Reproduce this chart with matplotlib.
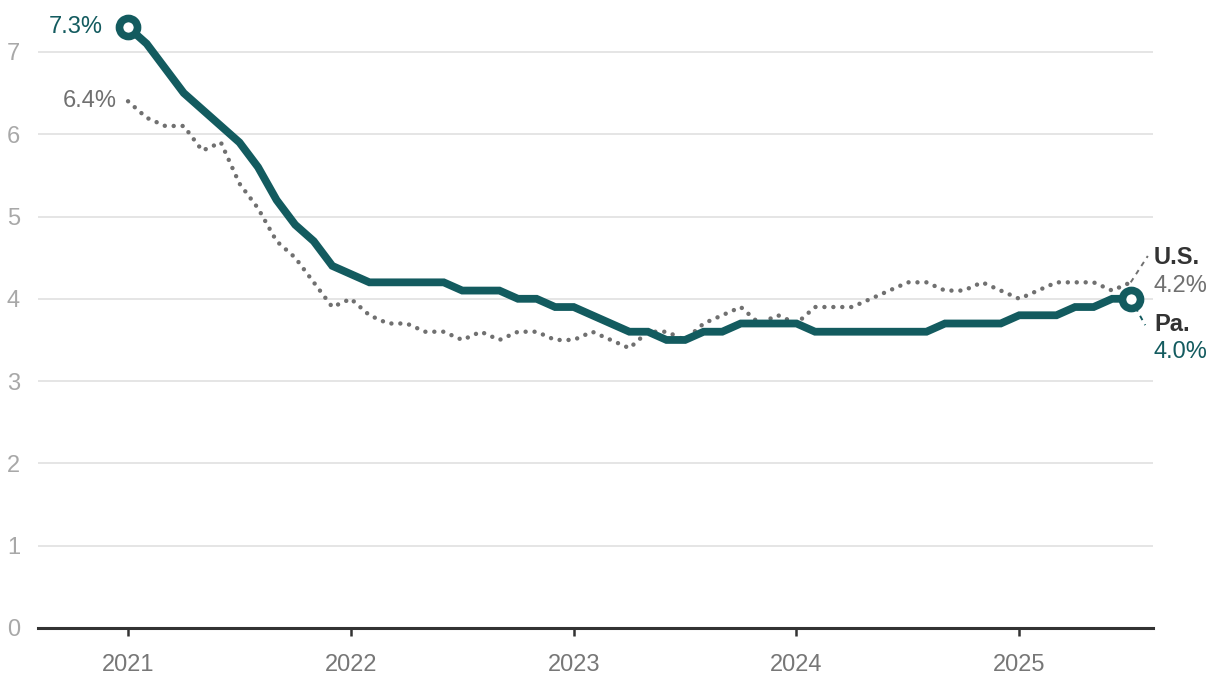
import matplotlib
matplotlib.use("Agg")
import matplotlib.pyplot as plt
import numpy as np

plt.rcParams['font.family'] = ['Liberation Sans', 'DejaVu Sans']

# Monthly unemployment rate, Jan 2021 - Jul 2025
pa_rate = [
    7.3, 7.1, 6.8, 6.5, 6.3, 6.1, 5.9, 5.6, 5.2, 4.9, 4.7, 4.4,
    4.3, 4.2, 4.2, 4.2, 4.2, 4.2, 4.1, 4.1, 4.1, 4.0, 4.0, 3.9,
    3.9, 3.8, 3.7, 3.6, 3.6, 3.5, 3.5, 3.6, 3.6, 3.7, 3.7, 3.7,
    3.7, 3.6, 3.6, 3.6, 3.6, 3.6, 3.6, 3.6, 3.7, 3.7, 3.7, 3.7,
    3.8, 3.8, 3.8, 3.9, 3.9, 4.0, 4.0,
]
us_rate = [
    6.4, 6.2, 6.1, 6.1, 5.8, 5.9, 5.4, 5.1, 4.7, 4.5, 4.2, 3.9,
    4.0, 3.8, 3.7, 3.7, 3.6, 3.6, 3.5, 3.6, 3.5, 3.6, 3.6, 3.5,
    3.5, 3.6, 3.5, 3.4, 3.6, 3.6, 3.5, 3.7, 3.8, 3.9, 3.7, 3.8,
    3.7, 3.9, 3.9, 3.9, 4.0, 4.1, 4.2, 4.2, 4.1, 4.1, 4.2, 4.1,
    4.0, 4.1, 4.2, 4.2, 4.2, 4.1, 4.2,
]
year_labels = ['2021', '2022', '2023', '2024', '2025']
y_ticks = [0, 1, 2, 3, 4, 5, 6, 7]
series_names = ['U.S.', 'Pa.']

TEAL = '#135b5f'
GREY = '#707070'

months = np.arange(len(pa_rate))

W, H = 1220, 688
fig = plt.figure(figsize=(W / 100, H / 100), dpi=100)
ax = fig.add_axes([38 / W, 60 / H, (1153 - 38) / W, (628 - 3) / H])

ax.set_xlim(-4.85, 55.2)
ax.set_ylim(0, 625 / 82.3)

for v in y_ticks[1:]:
    ax.axhline(v, color='#e3e3e3', lw=1.3, zorder=0)

ax.plot(months, us_rate, color=GREY, lw=3.2, linestyle=(0, (0.01, 2.0)),
        dash_capstyle='round', solid_joinstyle='round', zorder=2)
ax.plot(months, pa_rate, color=TEAL, lw=5.6, solid_joinstyle='miter',
        solid_capstyle='butt', zorder=3)

# leader lines to end labels
last = months[-1]
ax.plot([last, 54.92], [us_rate[-1], 4.52], color=GREY, lw=1.4,
        linestyle=(0, (2.5, 2.5)), zorder=2)
ax.plot([last, 54.78], [pa_rate[-1], 3.68], color=TEAL, lw=1.4,
        linestyle=(0, (2.5, 2.5)), zorder=2)

# end circles
for i in (0, len(pa_rate) - 1):
    ax.plot(months[i], pa_rate[i], marker='o', markersize=13, mfc='white',
            mec=TEAL, mew=5.5, zorder=5)

fs = 17
ax.annotate(f'{pa_rate[0]:.1f}%', (months[0], pa_rate[0]), xytext=(-18, 0),
            textcoords='offset points', ha='right', va='center',
            color=TEAL, fontsize=fs)
ax.annotate(f'{us_rate[0]:.1f}%', (months[0], us_rate[0]), xytext=(-8, 0),
            textcoords='offset points', ha='right', va='center',
            color=GREY, fontsize=fs)

ax.text(55.25, 4.50, series_names[0], ha='left', va='center',
        color='#333333', fontsize=fs, fontweight='bold')
ax.text(55.25, 4.16, f'{us_rate[-1]:.1f}%', ha='left', va='center',
        color=GREY, fontsize=fs)
ax.text(55.25, 3.69, series_names[1], ha='left', va='center',
        color='#333333', fontsize=fs, fontweight='bold')
ax.text(55.25, 3.35, f'{pa_rate[-1]:.1f}%', ha='left', va='center',
        color=TEAL, fontsize=fs)

for s in ['top', 'right', 'left']:
    ax.spines[s].set_visible(False)
ax.spines['bottom'].set_color('#333333')
ax.spines['bottom'].set_linewidth(2.2)

ax.set_xticks(np.arange(len(year_labels)) * 12)
ax.set_xticklabels(year_labels)
ax.set_yticks(y_ticks)
ax.set_yticklabels([str(v) for v in y_ticks])
ax.tick_params(axis='x', length=6, width=1.8, color='#333333',
               labelcolor='#777777', labelsize=fs, pad=13)
ax.tick_params(axis='y', length=0, labelcolor='#a8a8a8', labelsize=fs, pad=13)
for lab in ax.get_yticklabels():
    lab.set_horizontalalignment('right')

fig.savefig('out.png', dpi=100)
